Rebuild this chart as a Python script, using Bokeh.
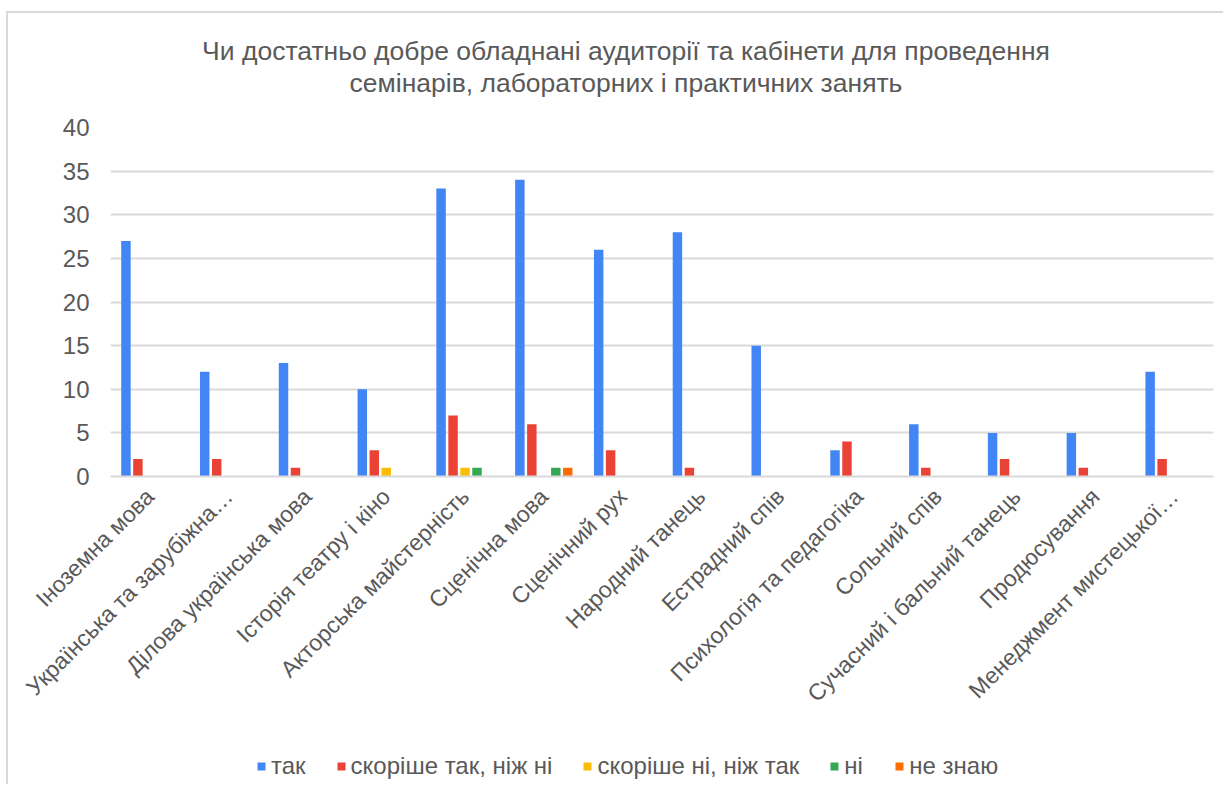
import numpy as np
from bokeh.plotting import figure
from bokeh.layouts import column
from bokeh.models import (ColumnDataSource, Legend, LegendItem, Title, FactorRange, Range1d,
                          SingleIntervalTicker)
from bokeh.transform import dodge
from bokeh.embed import file_html
from bokeh.resources import INLINE
from math import pi

categories = [
    "Іноземна мова",
    "Українська та зарубіжна…",
    "Ділова українська мова",
    "Історія театру і кіно",
    "Акторська майстерність",
    "Сценічна мова",
    "Сценічний рух",
    "Народний танець",
    "Естрадний спів",
    "Психологія та педагогіка",
    "Сольний спів",
    "Сучасний і бальний танець",
    "Продюсування",
    "Менеджмент мистецької…",
]
series_names = ["так", "скоріше так, ніж ні", "скоріше ні, ніж так", "ні", "не знаю"]
tak = [27, 12, 13, 10, 33, 34, 26, 28, 15, 3, 6, 5, 5, 12]
skorishe_tak = [2, 2, 1, 3, 7, 6, 3, 1, 0, 4, 1, 2, 1, 2]
skorishe_ni = [0, 0, 0, 1, 1, 0, 0, 0, 0, 0, 0, 0, 0, 0]
ni = [0, 0, 0, 0, 1, 1, 0, 0, 0, 0, 0, 0, 0, 0]
ne_znayu = [0, 0, 0, 0, 0, 1, 0, 0, 0, 0, 0, 0, 0, 0]
colors = ["#4285F4", "#EA4335", "#FBBC04", "#34A853", "#FF6D01"]

title_lines = [
    "Чи достатньо добре обладнані аудиторії та кабінети для проведення",
    "семінарів, лабораторних і практичних занять",
]

series = [tak, skorishe_tak, skorishe_ni, ni, ne_znayu]
keys = ["s0", "s1", "s2", "s3", "s4"]

data = {"cat": categories}
for k, s in zip(keys, series):
    data[k] = s
source = ColumnDataSource(data)

FONT = "Liberation Sans"
GRAY = "#595959"

p = figure(
    width=1215, height=735,
    x_range=FactorRange(*categories, range_padding=0),
    y_range=Range1d(0, 40),
    output_backend="svg", toolbar_location=None,
    min_border_left=102, min_border_right=10, min_border_top=114, min_border_bottom=272,
)

def title_kw():
    return dict(align="center", text_font=FONT, text_font_size="26.5px",
                text_font_style="normal", text_color=GRAY, standoff=0,
                padding=(0, 72, 0, 0))

# spacer between title and plot area (closest to the plot)
p.add_layout(Title(text=" ", align="center", text_font=FONT, text_font_size="25px",
                   standoff=0), "above")
# second title line
p.add_layout(Title(text=title_lines[1], **title_kw()), "above")
# first title line (outermost)
p.title.text = title_lines[0]
for k, v in title_kw().items():
    setattr(p.title, k, v)

step = 0.152
offsets = [-2 * step, -step, 0, step, 2 * step]
for k, off, c in zip(keys, offsets, colors):
    p.vbar(x=dodge("cat", off, range=p.x_range), top=k, width=0.12, source=source,
           fill_color=c, line_color=None)

p.yaxis.ticker = SingleIntervalTicker(interval=5)
p.yaxis.axis_line_color = None
p.yaxis.major_tick_line_color = None
p.yaxis.minor_tick_line_color = None
p.yaxis.major_label_standoff = 15
p.yaxis.major_label_text_font = FONT
p.yaxis.major_label_text_font_size = "24px"
p.yaxis.major_label_text_color = GRAY

p.xaxis.axis_line_color = "#d9d9d9"
p.xaxis.axis_line_width = 2
p.xaxis.major_tick_line_color = None
p.xaxis.minor_tick_line_color = None
p.xaxis.major_label_orientation = pi / 4
p.xaxis.major_label_standoff = 10
p.xaxis.major_label_text_font = FONT
p.xaxis.major_label_text_font_size = "23px"
p.xaxis.major_label_text_color = GRAY

p.xgrid.grid_line_color = None
p.ygrid.grid_line_color = "#d9d9d9"
p.ygrid.grid_line_width = 2
p.outline_line_color = None

# legend strip below the chart
lg = figure(
    width=1215, height=36,
    x_range=p.x_range, y_range=Range1d(1000, 1001),
    output_backend="svg", toolbar_location=None,
    x_axis_type=None, y_axis_type=None,
    min_border_left=0, min_border_right=0, min_border_top=0, min_border_bottom=0,
)
lg.xgrid.grid_line_color = None
lg.ygrid.grid_line_color = None
lg.outline_line_color = None
legend_renderers = []
for k, off, c in zip(keys, offsets, colors):
    r = lg.vbar(x=dodge("cat", off, range=lg.x_range), top=k, width=0.12, source=source,
                fill_color=c, line_color=None)
    legend_renderers.append(r)

legend = Legend(
    items=[LegendItem(label=n, renderers=[r]) for n, r in zip(series_names, legend_renderers)],
    location=(146, 4), orientation="horizontal",
    glyph_width=10, glyph_height=10, label_standoff=5, spacing=30,
    label_text_font=FONT, label_text_font_size="24px", label_text_color=GRAY,
    border_line_color=None, background_fill_alpha=0, padding=2, margin=0,
)
lg.add_layout(legend, "center")

layout = column(p, lg, spacing=0)
layout.styles = {"border-top": "2px solid #dadada", "border-left": "2px solid #dadada",
                 "margin-left": "6px", "margin-top": "11px"}

open("out.html", "w").write(file_html(layout, INLINE))
